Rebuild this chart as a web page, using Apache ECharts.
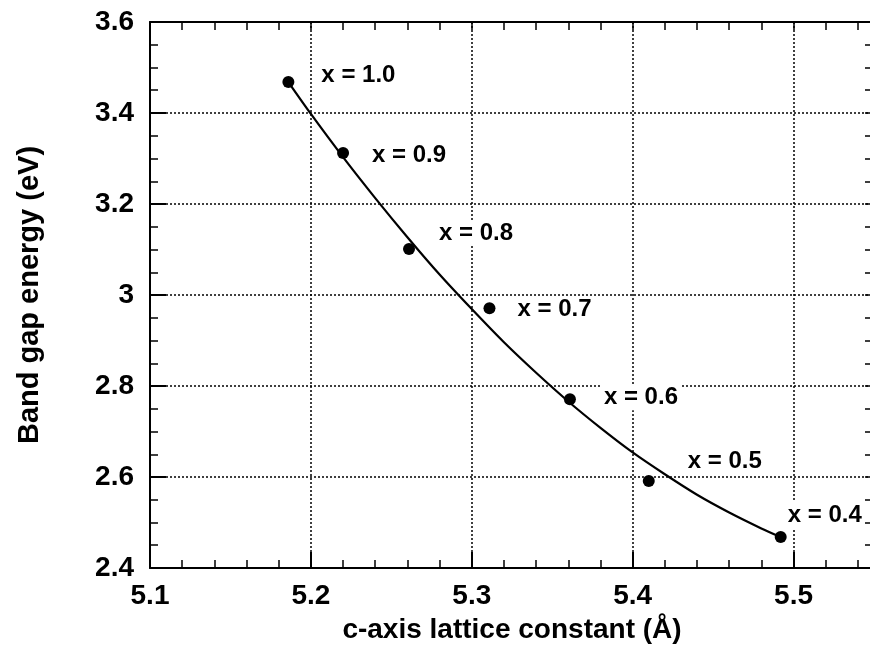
<!DOCTYPE html>
<html><head><meta charset="utf-8">
<script src="https://cdn.jsdelivr.net/npm/echarts@6/dist/echarts.min.js"></script>
<style>html,body{margin:0;padding:0;background:#fff}#c{width:870px;height:656px}</style>
</head><body><div id="c"></div>
<script>
// ---- data ----
const compositions = ['x = 1.0','x = 0.9','x = 0.8','x = 0.7','x = 0.6','x = 0.5','x = 0.4'];
const latticeC = [5.186, 5.220, 5.261, 5.311, 5.361, 5.410, 5.492];
const bandGap  = [3.468, 3.312, 3.101, 2.971, 2.771, 2.591, 2.468];
const fitC   = [5.186, 5.20, 5.22, 5.24, 5.26, 5.28, 5.30, 5.32, 5.34, 5.36, 5.38, 5.40, 5.42, 5.44, 5.46, 5.48, 5.492];
const fitGap = [3.468, 3.398, 3.303, 3.213, 3.127, 3.045, 2.969, 2.896, 2.829, 2.766, 2.708, 2.654, 2.606, 2.561, 2.522, 2.487, 2.468];
const xTickLabels = ['5.1','5.2','5.3','5.4','5.5'];
const yTickLabels = ['2.4','2.6','2.8','3','3.2','3.4','3.6'];
const xTitle = 'c-axis lattice constant (Å)';
const yTitle = 'Band gap energy (eV)';

// ---- layout / style ----
const FONT = '"Liberation Sans", Arial, Helvetica, sans-serif';
const labelOffsets = [[24,-7],[20,2],[21,-16],[19,1],[25,-2],[30,-20],[-2,-22]];
const X_MIN = 5.1, X_MAX = 5.55, Y_MIN = 2.4, Y_MAX = 3.6;
const gridRect = {left: 150, top: 22, width: 724, height: 546, containLabel: false, outerBoundsMode: 'none'};
const dotted = {color: '#000', width: 1.5, type: [2, 2]};

const chart = echarts.init(document.getElementById('c'), null, {renderer: 'canvas'});
const option = {
  backgroundColor: '#fff',
  animation: false,
  textStyle: {fontFamily: FONT},
  grid: [Object.assign({}, gridRect), Object.assign({}, gridRect)],
  xAxis: [
    { // main bottom axis
      gridIndex: 0, type: 'value', position: 'bottom', min: X_MIN, max: X_MAX, interval: 0.1,
      name: xTitle, nameLocation: 'middle', nameGap: 48,
      nameTextStyle: {fontSize: 28, fontWeight: 'bold', color: '#000', fontFamily: FONT},
      axisLine: {show: true, onZero: false, lineStyle: {color: '#000', width: 2}},
      axisTick: {show: true, inside: true, length: 16, lineStyle: {color: '#000', width: 2}},
      axisLabel: {show: true, showMaxLabel: false, margin: 14, fontSize: 28, fontWeight: 'bold', color: '#000', fontFamily: FONT,
        formatter: v => { const i = Math.round((v - X_MIN) / 0.1); return (Math.abs(v - (X_MIN + i*0.1)) < 1e-6 && xTickLabels[i]) ? xTickLabels[i] : ''; }},
      splitLine: {show: true, lineStyle: dotted}
    },
    { // top axis, minor ticks
      gridIndex: 0, type: 'value', position: 'top', min: X_MIN, max: X_MAX, interval: 0.02,
      axisLine: {show: true, onZero: false, lineStyle: {color: '#000', width: 2}},
      axisTick: {show: true, inside: true, length: 8, lineStyle: {color: '#000', width: 1.5}},
      axisLabel: {show: false}, splitLine: {show: false}
    },
    { // bottom minor ticks
      gridIndex: 1, type: 'value', position: 'bottom', min: X_MIN, max: X_MAX, interval: 0.02,
      axisLine: {show: false, onZero: false},
      axisTick: {show: true, inside: true, length: 8, lineStyle: {color: '#000', width: 1.5}},
      axisLabel: {show: false}, splitLine: {show: false}
    }
  ],
  yAxis: [
    {
      gridIndex: 0, type: 'value', position: 'left', min: Y_MIN, max: Y_MAX, interval: 0.2,
      name: yTitle, nameLocation: 'middle', nameGap: 106, nameRotate: 90,
      nameTextStyle: {fontSize: 29, fontWeight: 'bold', color: '#000', fontFamily: FONT},
      axisLine: {show: true, onZero: false, lineStyle: {color: '#000', width: 2}},
      axisTick: {show: true, inside: true, length: 16, lineStyle: {color: '#000', width: 2}},
      minorTick: {show: true, splitNumber: 4, length: 8, lineStyle: {color: '#000', width: 1.5}},
      axisLabel: {show: true, margin: 16, fontSize: 28, fontWeight: 'bold', color: '#000', fontFamily: FONT,
        formatter: v => { const i = Math.round((v - Y_MIN) / 0.2); return yTickLabels[i] || ''; }},
      splitLine: {show: true, lineStyle: dotted}
    },
    {
      gridIndex: 0, type: 'value', position: 'right', min: Y_MIN, max: Y_MAX, interval: 0.2,
      axisLine: {show: true, onZero: false, lineStyle: {color: '#000', width: 2}},
      axisTick: {show: true, inside: true, length: 9, lineStyle: {color: '#000', width: 1.5}},
      minorTick: {show: true, splitNumber: 4, length: 9, lineStyle: {color: '#000', width: 1.5}},
      axisLabel: {show: false}, splitLine: {show: false}
    },
    {
      gridIndex: 1, type: 'value', min: Y_MIN, max: Y_MAX, interval: 0.2, show: false
    }
  ],
  series: [
    {
      type: 'line', xAxisIndex: 0, yAxisIndex: 0, smooth: 0.3, symbol: 'none',
      lineStyle: {color: '#000', width: 2.2, opacity: 1},
      data: fitC.map((c, i) => [c, fitGap[i]]), z: 3
    },
    {
      type: 'scatter', xAxisIndex: 0, yAxisIndex: 0, symbol: 'circle', symbolSize: 12,
      itemStyle: {color: '#000', opacity: 1}, z: 4,
      data: latticeC.map((c, i) => ({
        value: [c, bandGap[i]],
        label: {show: true, position: 'right', distance: 0, offset: labelOffsets[i],
          formatter: compositions[i], fontSize: 24, fontWeight: 'bold', color: '#000', opacity: 1, fontFamily: FONT,
          backgroundColor: '#fff', padding: [1, 3]}
      }))
    }
  ]
};
chart.setOption(option);
</script>
</body></html>
